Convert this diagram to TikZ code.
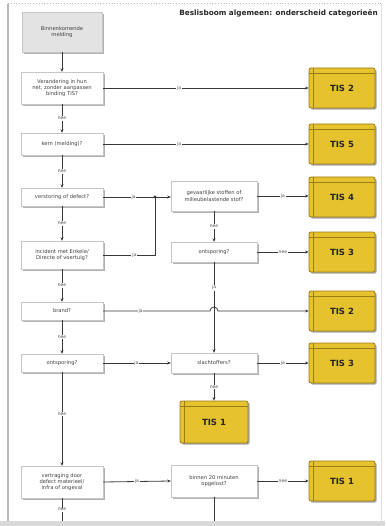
\documentclass[tikz,border=0pt]{standalone}
\usepackage{fontspec}
\setmainfont{DejaVu Sans}
\usetikzlibrary{shadows,arrows.meta}
\definecolor{tisy}{HTML}{E6C22E}
\definecolor{tisb}{HTML}{9A7C18}
\definecolor{ln}{HTML}{383838}
\begin{document}
\begin{tikzpicture}[x=1pt,y=-1pt,
  q/.style={draw=gray!45, fill=white, minimum width=82pt, align=center, inner sep=1pt,
    font=\fontsize{5.2}{6.2}\selectfont, text=black!75,
    drop shadow={shadow xshift=1.6pt, shadow yshift=-1.6pt, fill=gray!60, opacity=1}},
  qm/.style={q, minimum width=86pt},
  startbox/.style={q, fill=gray!22, minimum width=80pt, minimum height=40pt},
  tis/.style={draw=tisb, fill=tisy, rounded corners=2pt, line width=0.8pt,
    minimum width=66pt, minimum height=40pt,
    font=\bfseries\fontsize{8.5}{9}\selectfont, text=black!85,
    drop shadow={shadow xshift=1.6pt, shadow yshift=-1.6pt, fill=gray!70, opacity=1},
    path picture={
      \draw[tisb, line width=0.5pt] ([yshift=-5pt]path picture bounding box.north west) -- ([yshift=-5pt]path picture bounding box.north east);
      \draw[tisb, line width=0.5pt] ([xshift=4pt]path picture bounding box.north west) -- ([xshift=4pt]path picture bounding box.south west);}},
  arr/.style={draw=ln, line width=0.8pt, -{Stealth[length=3.5pt,width=3pt]}},
  ln/.style={draw=ln, line width=0.8pt},
  lbl/.style={fill=white, inner sep=0.8pt, font=\fontsize{4.5}{5}\selectfont, text=black!70}
]
\useasboundingbox (0,0) rectangle (385,526);
% frame
\draw[gray!25, line width=0.6pt] (381,4) -- (381,521);
\draw[gray!55, dotted, line width=0.8pt] (8,3.5) -- (381,3.5);
\draw[gray!55, line width=1.6pt] (8,4) -- (8,521);
\fill[gray!30] (0,520.5) rectangle (385,526);
% title
\node[anchor=east, font=\bfseries\fontsize{7.3}{8}\selectfont, text=black!85, inner sep=0pt] (title) at (378,13) {Beslisboom algemeen: onderscheid categorieën};

% left column
\node[startbox] (s) at (62,32) {Binnenkomende\\melding};
\node[q, minimum height=32pt] (q1) at (62,88) {Verandering in hun\\net, zonder aanpassen\\binding TIS?};
\node[q, minimum height=22pt] (q2) at (62,144) {kern (melding)?};
\node[q, minimum height=18pt] (q3) at (62,197) {verstoring of defect?};
\node[q, minimum height=28pt] (q4) at (62,255) {incident met Enkele/\\Directe of voertuig?};
\node[q, minimum height=18pt] (q5) at (62,311) {brand?};
\node[q, minimum height=18pt] (q6) at (62,363) {ontsporing?};
\node[q, minimum height=32pt] (q7) at (62,482) {vertraging door\\defect materieel/\\infra of ongeval};

% middle column
\node[qm, minimum height=30pt] (m1) at (214,196) {gevaarlijke stoffen of\\milieubelastende stof?};
\node[qm, minimum height=20pt] (m2) at (214,252) {ontsporing?};
\node[qm, minimum height=20pt] (m3) at (214,363) {slachtoffers?};
\node[tis, minimum width=68pt, minimum height=42pt] (t7) at (214,422) {TIS 1};
\node[qm, minimum height=32pt] (m4) at (214,481) {binnen 20 minuten\\opgelost?};

% right column
\node[tis] (t1) at (342,88) {TIS 2};
\node[tis] (t2) at (342,144) {TIS 5};
\node[tis] (t3) at (342,197) {TIS 4};
\node[tis] (t4) at (342,252) {TIS 3};
\node[tis] (t5) at (342,311) {TIS 2};
\node[tis] (t6) at (342,363) {TIS 3};
\node[tis] (t8) at (342,481) {TIS 1};

\coordinate (j) at (155,197);
\coordinate (b1) at (62,521);
\coordinate (b2) at (214,521);

% connectors
\draw[arr] (s) -- (q1);
\draw[arr] (q1.east) -- node[lbl,pos=.37]{ja} (q1.east -| t1.west);
\draw[arr] (q1) -- node[lbl]{nee} (q2);
\draw[arr] (q2.east) -- node[lbl,pos=.37]{ja} (q2.east -| t2.west);
\draw[arr] (q2) -- node[lbl]{nee} (q3);
\draw[arr] (q3.east) -- node[lbl,pos=.45]{ja} (q3.east -| m1.west);
\draw[ln] (q4.east) -- node[lbl,pos=.6]{ja} (q4.east -| j) -- (j);
\fill[ln] (j) circle (1.1);
\draw[arr] (q3) -- node[lbl]{nee} (q4);
\draw[arr] (m1.east) -- node[lbl]{ja} (m1.east -| t3.west);
\draw[arr] (m1) -- node[lbl]{nee} (m2);
\draw[arr] (m2.east) -- node[lbl]{nee} (m2.east -| t4.west);
\draw[arr] (m2) -- node[lbl,pos=.28]{ja} (m3);
\draw[arr] (q4) -- node[lbl]{nee} (q5);
\draw[arr] (q5.east) -- node[lbl,pos=.35]{ja} ([xshift=-4pt]q5.east -| m2.south) arc[start angle=180, end angle=360, radius=4] -- (q5.east -| t5.west);
\draw[arr] (q5) -- node[lbl]{nee} (q6);
\draw[arr] (q6.east) -- node[lbl,pos=.49]{ja} (m3.west);
\draw[arr] (m3.east) -- node[lbl]{ja} (m3.east -| t6.west);
\draw[arr] (m3) -- node[lbl]{nee} (t7);
\draw[arr] (q6) -- node[lbl,pos=.45]{nee} (q7);
\draw[arr] (q7.east) -- node[lbl]{ja} (m4.west);
\draw[arr] (m4.east) -- node[lbl]{nee} (m4.east -| t8.west);
\draw[ln] (q7) -- node[lbl]{nee} (b1);
\draw[ln] (m4) -- (b2);
\end{tikzpicture}
\end{document}
